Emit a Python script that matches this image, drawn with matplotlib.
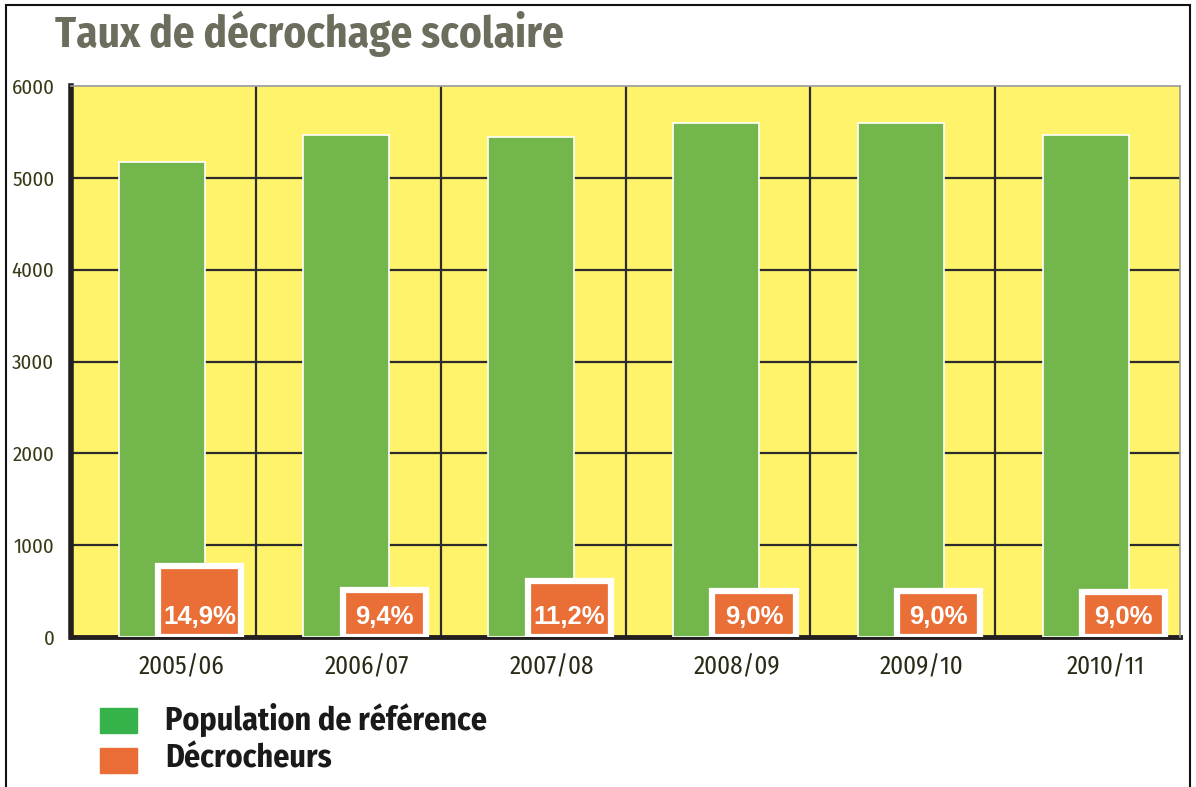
import numpy as np
import matplotlib.pyplot as plt
from matplotlib.patches import Rectangle

years = ["2005/06", "2006/07", "2007/08", "2008/09", "2009/10", "2010/11"]
population = [5170, 5470, 5450, 5600, 5600, 5470]
taux = [14.9, 9.4, 11.2, 9.0, 9.0, 9.0]
taux_labels = ["14,9%", "9,4%", "11,2%", "9,0%", "9,0%", "9,0%"]

# nombre de décrocheurs déduit du taux affiché
decrocheurs = [p * t / 100 for p, t in zip(population, taux)]

narrow = ["Fira Sans Condensed", "DejaVu Sans"]
jaune = "#fff36b"
vert = "#73b74c"
orange = "#e96f36"

fig = plt.figure(figsize=(11.96, 7.87), dpi=100)
ax = fig.add_axes([0.0594, 0.1906, 0.9272, 0.7001])
ax.set_facecolor(jaune)

x = np.arange(len(years))
ax.bar(x - 0.01, population, width=0.465, color=vert, edgecolor="white",
       linewidth=1.2, zorder=3)
ax.bar(x + 0.195, decrocheurs, width=0.45, color=orange, edgecolor="white",
       linewidth=4.5, zorder=4)

for xi, lab in zip(x, taux_labels):
    ax.text(xi + 0.195, 215, lab, ha="center", va="center", color="white",
            fontsize=18.5, fontweight="bold", family="Liberation Sans", zorder=5)

ax.set_xlim(-0.5, 5.5)
ax.set_ylim(0, 6000)

# grille : lignes horizontales tous les 1000, verticales entre les années
for yv in range(1000, 6000, 1000):
    ax.axhline(yv, color="#2b2b2b", linewidth=1.6, zorder=1)
for xv in np.arange(0.5, 5.5, 1):
    ax.axvline(xv, color="#2b2b2b", linewidth=1.6, zorder=1)

for s in ["top", "right"]:
    ax.spines[s].set_color("#9a9a9a")
    ax.spines[s].set_linewidth(1.2)
ax.spines["left"].set_color("#231f20")
ax.spines["left"].set_linewidth(4)
ax.spines["bottom"].set_color("#231f20")
ax.spines["bottom"].set_linewidth(3.5)
ax.spines["bottom"].set_zorder(2)

ax.set_yticks(range(0, 6001, 1000))
ax.set_yticklabels([str(v) for v in range(0, 6001, 1000)], family=narrow,
                   fontstretch="condensed", fontsize=15, color="#3a3a18")
ax.tick_params(axis="y", length=0, pad=12)
ax.set_xticks(x + 0.1)
ax.set_xticklabels(years, family=narrow, fontstretch="condensed", fontsize=18,
                   color="#2a2a16")
ax.tick_params(axis="x", length=0, pad=13)

fig.text(0.046, 0.957, "Taux de décrochage scolaire", family=narrow,
         fontstretch="condensed", fontweight="bold", fontsize=31,
         color="#6d6d5d", va="center")

# légende
fig.patches.append(Rectangle((100 / 1196, 1 - 733 / 787), 37 / 1196, 25 / 787,
                             transform=fig.transFigure, color="#36b24a"))
fig.patches.append(Rectangle((100 / 1196, 1 - 773 / 787), 37 / 1196, 25 / 787,
                             transform=fig.transFigure, color="#ea6d37"))
fig.text(165 / 1196, 1 - 720 / 787, "Population de référence", family=narrow,
         fontstretch="condensed", fontweight="bold", fontsize=23,
         color="#1a1a1a", va="center")
fig.text(165 / 1196, 1 - 759 / 787, "Décrocheurs", family=narrow,
         fontstretch="condensed", fontweight="bold", fontsize=23,
         color="#1a1a1a", va="center")

# cadre
fig.patches.append(Rectangle((6 / 1196, -0.05), 1184 / 1196, 1.05 - 5 / 787,
                             transform=fig.transFigure, fill=False,
                             edgecolor="#111111", linewidth=1.5))

fig.savefig("out.png", dpi=100)
